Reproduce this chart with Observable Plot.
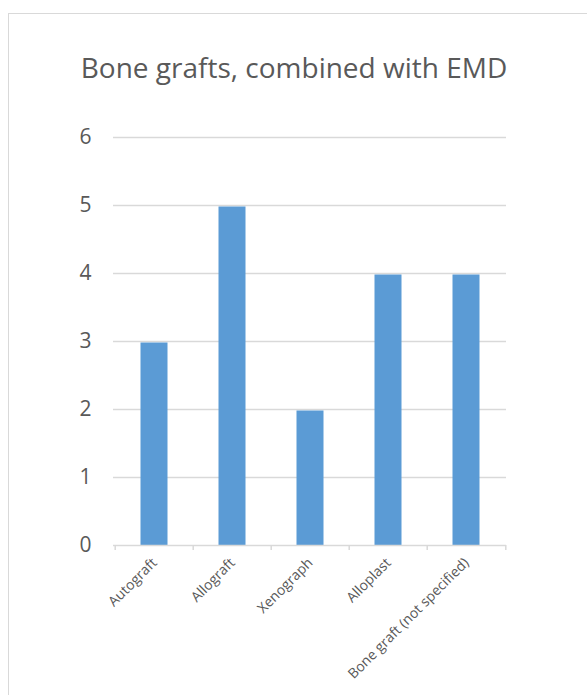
<!DOCTYPE html>
<html>
<head>
<meta charset="utf-8">
<script src="https://cdn.jsdelivr.net/npm/d3@7"></script>
<script src="https://cdn.jsdelivr.net/npm/@observablehq/plot@0.6"></script>
<style>
  html, body { margin: 0; padding: 0; background: #fff; overflow: hidden; }
  #wrap { position: relative; width: 587px; height: 695px; overflow: hidden; }
  #frame { position: absolute; left: 8px; top: 13px; width: 620px; height: 720px; border: 1.5px solid #d9d9d9; box-sizing: border-box; }
  #title { position: absolute; left: 8px; width: 572px; top: 48px; text-align: center; font-family: "Open Sans", sans-serif; font-size: 28px; color: #595959; white-space: nowrap; }
  #chart { position: absolute; left: 0; top: 0; }
</style>
</head>
<body>
<div id="wrap">
  <div id="frame"></div>
  <div id="title">Bone grafts, combined with EMD</div>
  <div id="chart"></div>
</div>
<script>
const categories = ["Autograft", "Allograft", "Xenograph", "Alloplast", "Bone graft (not specified)"];
const values = [3, 5, 2, 4, 4];
const yTicks = [0, 1, 2, 3, 4, 5, 6];

const data = categories.map((c, i) => ({category: c, value: values[i]}));

const W = 587, H = 695;
const mL = 113, mR = 81, mT = 137, mB = 150;
const bw = (W - mL - mR) / categories.length;
const grid = "#d9d9d9";

const chart = Plot.plot({
  width: W,
  height: H,
  marginLeft: mL,
  marginRight: mR,
  marginTop: mT,
  marginBottom: mB,
  style: { fontFamily: "'Open Sans', sans-serif", color: "#595959", background: "transparent", overflow: "visible" },
  x: { domain: categories, padding: 0, label: null },
  y: { domain: [0, 6], ticks: yTicks, label: null },
  marks: [
    Plot.gridY(yTicks.filter(d => d > 0), { stroke: grid, strokeOpacity: 1, strokeWidth: 1.3 }),
    Plot.axisY({ ticks: yTicks, tickFormat: "d", tickSize: 0, tickPadding: 22, fontSize: 21, fill: "#595959", label: null }),
    Plot.barY(data, { x: "category", y: "value", fill: "#5b9bd5", insetLeft: 25.5, insetRight: 25.5, insetTop: 1.5 }),
    Plot.ruleY([0], { stroke: grid, strokeWidth: 1.5 }),
    Plot.ruleX(categories, { x: d => d, y1: 0, y2: -0.075, dx: -bw / 2, stroke: grid, strokeWidth: 1.5 }),
    Plot.ruleX(categories.slice(-1), { x: d => d, y1: 0, y2: -0.075, dx: bw / 2, stroke: grid, strokeWidth: 1.5 }),
    Plot.axisX({ tickSize: 0, tickPadding: 15, tickRotate: -45, fontSize: 14, fill: "#595959", label: null })
  ]
});
document.getElementById("chart").appendChild(chart);
</script>
</body>
</html>
